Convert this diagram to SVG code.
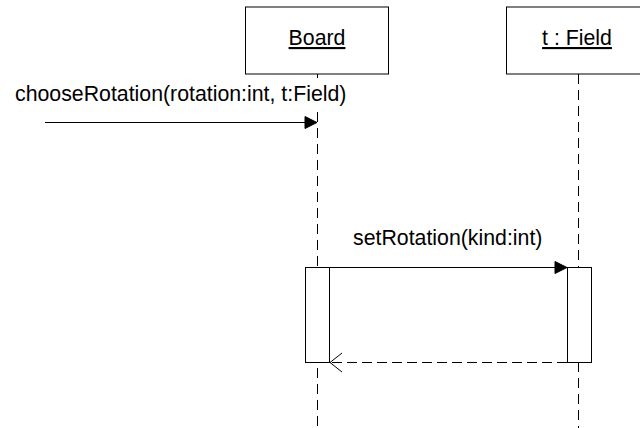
<svg xmlns="http://www.w3.org/2000/svg" width="640" height="428" viewBox="0 0 640 428">
<defs>
<style>
.box{fill:#fff;stroke:#000;stroke-width:1}
.life{stroke:#000;stroke-width:1;stroke-dasharray:10,6;fill:none}
.msg{stroke:#000;stroke-width:1;fill:none}
.ret{stroke:#000;stroke-width:1;stroke-dasharray:10,5;fill:none}
.lbl{font-family:"Liberation Sans",Arial,sans-serif;font-size:21.3px;fill:#000}
.head{fill:#000;stroke:#000;stroke-width:1}
</style>
</defs>
<rect width="640" height="428" fill="#fff"/>
<g id="lifelines">
<line class="life" x1="317.5" y1="74" x2="317.5" y2="78"/>
<line class="life" x1="317.5" y1="112" x2="317.5" y2="428"/>
<line class="life" x1="578.5" y1="74" x2="578.5" y2="428"/>
</g>
<g id="Board">
<rect class="box" x="245.5" y="7" width="143" height="67"/>
<text class="lbl" x="317" y="45" text-anchor="middle" text-decoration="underline">Board</text>
</g>
<g id="Field">
<rect class="box" x="506.5" y="7" width="144" height="67"/>
<text class="lbl" x="577" y="45" text-anchor="middle" text-decoration="underline">t : Field</text>
</g>
<g id="BoardActivation">
<rect class="box" x="305.5" y="267.5" width="24" height="95"/>
</g>
<g id="FieldActivation">
<rect class="box" x="567.5" y="267.5" width="24" height="95"/>
</g>
<g id="connectors">
<line class="msg" x1="45" y1="122.5" x2="306" y2="122.5"/>
<polygon class="head" points="317,122.5 305,116.5 305,128.5"/>
<text class="lbl" x="15" y="101">chooseRotation(rotation:int, t:Field)</text>
<line class="msg" x1="329.5" y1="267.5" x2="556" y2="267.5"/>
<polygon class="head" points="567,267.5 555,261.5 555,273.5"/>
<text class="lbl" x="353" y="245">setRotation(kind:int)</text>
<line class="ret" x1="567" y1="362.5" x2="330" y2="362.5"/>
<polyline class="msg" points="342,353 330,362.5 342,372"/>
</g>
</svg>
